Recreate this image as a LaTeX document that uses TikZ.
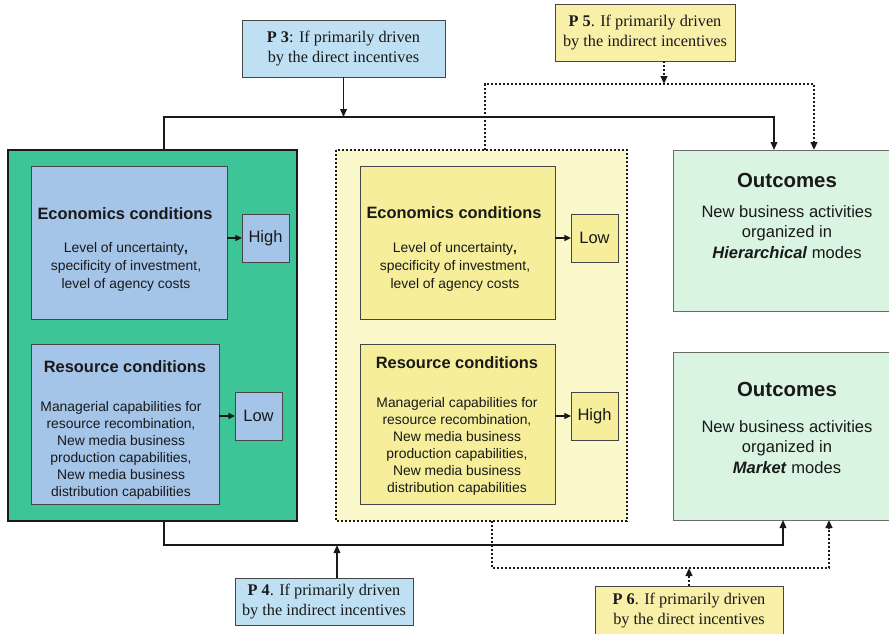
\documentclass[tikz,border=0pt]{standalone}
\usepackage{fontspec}
\setmainfont{Liberation Serif}
\setsansfont{Liberation Sans}
\usetikzlibrary{arrows.meta,fit}

\definecolor{teal}{RGB}{61,197,152}
\definecolor{condblue}{RGB}{164,196,232}
\definecolor{paleyellow}{RGB}{251,248,204}
\definecolor{condyellow}{RGB}{246,238,154}
\definecolor{outgreen}{RGB}{217,244,224}
\definecolor{propblue}{RGB}{191,224,243}
\definecolor{propyellow}{RGB}{248,240,168}
\definecolor{edge}{RGB}{70,70,70}

\tikzset{
  frame/.style={inner sep=0pt, outer sep=0pt, line width=0.75pt},
  condbox/.style={frame, draw=edge},
  levelbox/.style={frame, draw=edge},
  outbox/.style={frame, draw=edge!80, fill=outgreen},
  propbox/.style={frame, draw=edge},
  ttl/.style={font=\sffamily\bfseries\fontsize{12.3}{15}\selectfont, text=black!90, inner sep=0pt},
  bodytxt/.style={font=\sffamily\fontsize{10.4}{13.6}\selectfont, align=center, text=black!90, inner sep=0pt},
  restxt/.style={font=\sffamily\fontsize{10.4}{12.75}\selectfont, align=center, text=black!90, inner sep=0pt},
  lvltxt/.style={font=\sffamily\fontsize{12.4}{15}\selectfont, text=black!90, inner sep=0pt},
  outttl/.style={font=\sffamily\bfseries\fontsize{15.3}{18}\selectfont, text=black!90, inner sep=0pt},
  outtxt/.style={font=\sffamily\fontsize{12.4}{15.4}\selectfont, align=center, text=black!90, inner sep=0pt},
  proptxt/.style={font=\fontsize{12.2}{15}\selectfont, align=center, text=black!90, inner sep=0pt},
  link/.style={line width=1.1pt, draw=black!90},
  dotlink/.style={line width=1.8pt, draw=black!90, dash pattern=on 1.6pt off 1.4pt},
  tip/.style={-{Triangle[length=6pt,width=5pt]}},
  smalltip/.style={-{Triangle[length=5pt,width=4.5pt]}},
}

\begin{document}
\begin{tikzpicture}[x=0.75pt,y=-0.75pt]
\useasboundingbox (0,0) rectangle (889,633);

% ---- left block: direct incentives ----
\node[frame, draw=black!90, line width=1.6pt, fill=teal, fit={(8,150) (297,521)}] (green) {};
\node[condbox, fill=condblue, fit={(31,166) (227,319)}] (econL) {};
\node[ttl] (econLt) at (125,214) {Economics conditions};
\node[bodytxt] (econLb) at (126,267) {Level of uncertainty{\bfseries,}\\specificity of investment,\\level of agency costs};
\node[levelbox, fill=condblue, fit={(242,214) (289,262)}] (highL) {};
\node[lvltxt] (highLt) at (highL.center) {High};

\node[condbox, fill=condblue, fit={(31,344) (219,504)}] (resL) {};
\node[ttl] (resLt) at (125,367) {Resource conditions};
\node[restxt] (resLb) at (121,450) {Managerial capabilities for\\resource recombination,\\New media business\\production capabilities,\\New media business\\distribution capabilities};
\node[levelbox, fill=condblue, fit={(235,392) (282,440)}] (lowL) {};
\node[lvltxt] (lowLt) at (lowL.center) {Low};

\draw[link, smalltip] (econL.east |- highL.west) -- (highL.west);
\draw[link, smalltip] (resL.east |- lowL.west) -- (lowL.west);

% ---- middle block: indirect incentives ----
\node[frame, fill=paleyellow, fit={(336,150) (627,521)}] (yellow) {};
\draw[dotlink] (yellow.north west) rectangle (yellow.south east);
\node[condbox, fill=condyellow, fit={(360,166) (555,319)}] (econR) {};
\node[ttl] (econRt) at (454,213) {Economics conditions};
\node[bodytxt] (econRb) at (455,267) {Level of uncertainty{\bfseries,}\\specificity of investment,\\level of agency costs};
\node[levelbox, fill=condyellow, fit={(571,214) (618,262)}] (lowR) {};
\node[lvltxt] (lowRt) at (lowR.center) {Low};

\node[condbox, fill=condyellow, fit={(360,344) (555,504)}] (resR) {};
\node[ttl] (resRt) at (457,363) {Resource conditions};
\node[restxt] (resRb) at (457,446) {Managerial capabilities for\\resource recombination,\\New media business\\production capabilities,\\New media business\\distribution capabilities};
\node[levelbox, fill=condyellow, fit={(571,392) (618,440)}] (highR) {};
\node[lvltxt] (highRt) at (highR.center) {High};

\draw[link, smalltip] (econR.east |- lowR.west) -- (lowR.west);
\draw[link, smalltip] (resR.east |- highR.west) -- (highR.west);

% ---- outcomes ----
\node[outbox, fit={(673,150) (905,311)}] (outH) {};
\node[outttl] (outHt) at (787,180) {Outcomes};
\node[outtxt] (outHb) at (787,232) {New business activities\\organized in\\\textbf{\textit{Hierarchical}} modes};
\node[outbox, fit={(673,352) (905,520)}] (outM) {};
\node[outttl] (outMt) at (787,389) {Outcomes};
\node[outtxt] (outMb) at (787,447) {New business activities\\organized in\\\textbf{\textit{Market}} modes};

% ---- propositions ----
\node[propbox, fill=propblue, fit={(242,20) (445,77)}] (p3) {};
\node[proptxt] (p3t) at (p3.center) {\textbf{P 3}: If primarily driven\\by the direct incentives};
\node[propbox, fill=propyellow, fit={(555,4) (735,61)}] (p5) {};
\node[proptxt] (p5t) at (p5.center) {\textbf{P 5}. If primarily driven\\by the indirect incentives};
\node[propbox, fill=propblue, fit={(235,578) (413,625)}] (p4) {};
\node[proptxt] (p4t) at (p4.center) {\textbf{P 4}. If primarily driven\\by the indirect incentives};
\node[propbox, fill=propyellow, fit={(595,586) (783,645)}] (p6) {};
\node[proptxt] (p6t) at (689,611) {\textbf{P 6}. If primarily driven\\by the direct incentives};

% ---- junction points ----
\coordinate (topL) at (164,117);
\coordinate (topR) at (774,117);
\coordinate (dotTL) at (485,84);
\coordinate (dotTR) at (814,84);
\coordinate (p5x) at (664,61);
\coordinate (botL) at (164,545);
\coordinate (botR) at (783,545);
\coordinate (p4x) at (337,578);
\coordinate (dotBL) at (492,568);
\coordinate (dotBR) at (829,568);

% solid routes: direct block to hierarchy, and to market
\draw[link, tip] (green.north -| topL) -- (topL) -- (topR) -- (outH.north -| topR);
\draw[link, tip] (p3.south) -- (p3.south |- topL);
\draw[link, tip] (green.south -| botL) -- (botL) -- (botR) -- (outM.south -| botR);
\draw[link, tip] (p4.north -| p4x) -- (p4x |- botL);

% dotted routes from the indirect block (tips stay solid)
\draw[dotlink, tip] (yellow.north -| dotTL) -- (dotTL) -- (dotTR) -- (outH.north -| dotTR);
\draw[dotlink, tip] (p5.south -| p5x) -- (p5x |- dotTL);
\draw[dotlink, tip] (yellow.south -| dotBL) -- (dotBL) -- (dotBR) -- (outM.south -| dotBR);
\draw[dotlink, tip] (p6.north) -- (p6.north |- dotBL);
\end{tikzpicture}
\end{document}
